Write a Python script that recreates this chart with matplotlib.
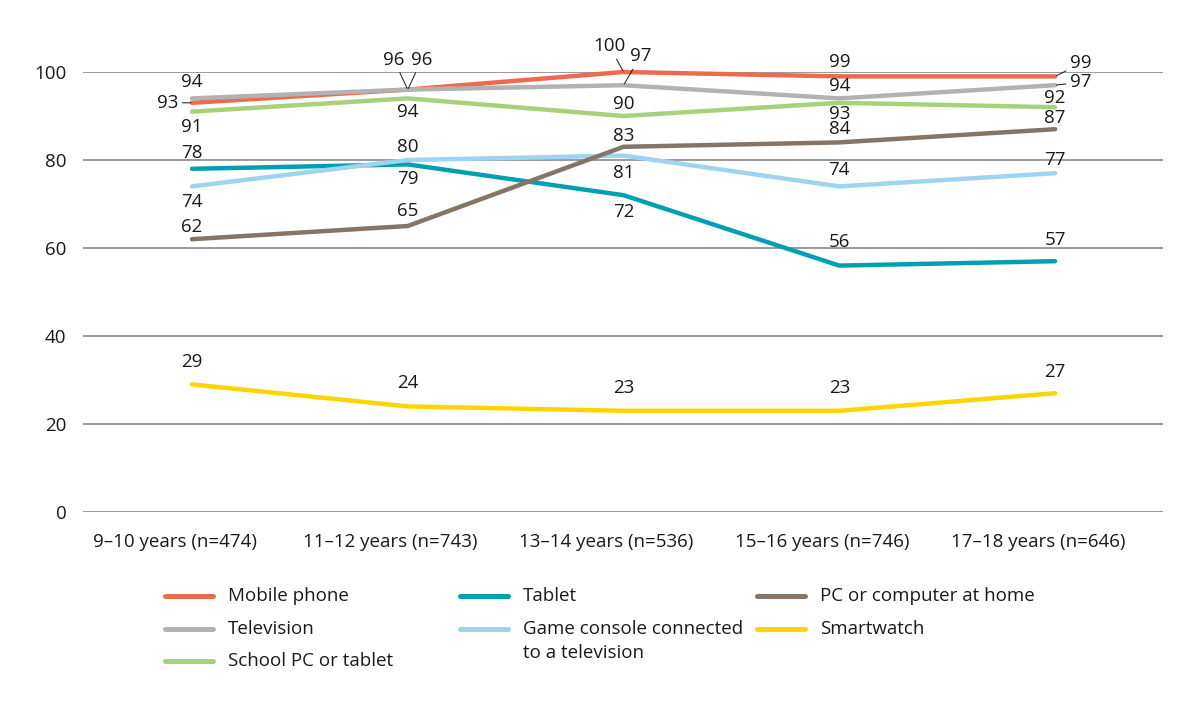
import matplotlib
matplotlib.use("Agg")
import matplotlib.pyplot as plt
from matplotlib.lines import Line2D

plt.rcParams['font.family'] = ['Open Sans', 'DejaVu Sans']

categories = ["9–10 years (n=474)", "11–12 years (n=743)", "13–14 years (n=536)",
              "15–16 years (n=746)", "17–18 years (n=646)"]
series_names = ["Mobile phone", "Television", "School PC or tablet", "Tablet",
                "Game console connected\nto a television", "PC or computer at home", "Smartwatch"]
mobile_phone = [93, 96, 100, 99, 99]
television = [94, 96, 97, 94, 97]
school_pc = [91, 94, 90, 93, 92]
tablet = [78, 79, 72, 56, 57]
game_console = [74, 80, 81, 74, 77]
pc_home = [62, 65, 83, 84, 87]
smartwatch = [29, 24, 23, 23, 27]
yticks = [0, 20, 40, 60, 80, 100]

values = [mobile_phone, television, school_pc, tablet, game_console, pc_home, smartwatch]
colors = ["#EE6A4F", "#B2B2B2", "#A9D17B", "#00A0B2", "#9DD4F2", "#857566", "#FFD400"]

# label offsets in pixels (dx, dy) and whether a leader line is used
offsets = [
    [(-14, 0, True), (-14, 30, True), (-14, 26, True), (0, 14, False), (15, 13, True)],
    [(0, 16, False), (14, 30, True), (17, 29, True), (0, 12, False), (15, 3, True)],
    [(0, -15, False), (0, -14, False), (0, 12, False), (0, -11, False), (0, 9, False)],
    [(0, 16, False), (0, -15, False), (0, -17, False), (0, 24, False), (0, 21, False)],
    [(0, -16, False), (0, 13, False), (0, -17, False), (0, 16, False), (0, 13, False)],
    [(0, 12, False), (0, 15, False), (0, 11, False), (0, 13, False), (0, 11, False)],
    [(0, 22, False), (0, 23, False), (0, 23, False), (0, 23, False), (0, 21, False)],
]

W, H = 1198, 708
fig = plt.figure(figsize=(W / 100, H / 100), dpi=100)
ax = fig.add_axes([83 / W, (H - 512) / H, 1080 / W, 440 / H])

x = list(range(len(categories)))
for name, vals, col in zip(series_names, values, colors):
    ax.plot(x, vals, color=col, lw=3.2, solid_capstyle='round', solid_joinstyle='round',
            clip_on=False, zorder=3)

fs = 13.5
tc = '#1a1a1a'
for vals, offs in zip(values, offsets):
    for xi, v, (dx, dy, lead) in zip(x, vals, offs):
        if lead:
            if dx < -13 and dy == 0:
                ha = 'right'
            elif dx >= 15 and dy < 20:
                ha = 'left'
            else:
                ha = 'center'
            ax.annotate(str(v), xy=(xi, v), xytext=(dx, dy), textcoords='offset pixels',
                        ha=ha, va='center', fontsize=fs, color=tc, zorder=5,
                        annotation_clip=False,
                        arrowprops=dict(arrowstyle='-', color=tc, lw=0.7,
                                        shrinkA=1, shrinkB=1))
        else:
            ax.annotate(str(v), xy=(xi, v), xytext=(dx, dy), textcoords='offset pixels',
                        ha='center', va='center', fontsize=fs, color=tc, zorder=5,
                        annotation_clip=False)

ax.set_xlim(-0.505, 4.5)
ax.set_ylim(0, 100)
ax.set_yticks(yticks)
ax.set_yticklabels([str(t) for t in yticks], fontsize=fs, color=tc)
ax.set_xticks([xi - 0.08 for xi in x])
ax.set_xticklabels(categories, fontsize=fs, color=tc)
ax.tick_params(axis='both', length=0)
ax.tick_params(axis='y', pad=12)
ax.tick_params(axis='x', pad=15)
for s in ax.spines.values():
    s.set_visible(False)
ax.grid(axis='y', color='#8a8a8a', lw=1.2)
ax.set_axisbelow(True)

# legend (manual layout)
col_x = [165, 460, 757]
row_y = [596, 629, 661]
slots = [(0, 0), (0, 1), (0, 2), (1, 0), (1, 1), (2, 0), (2, 1)]
for name, col, (c, r) in zip(series_names, colors, slots):
    hx = col_x[c]
    hy = row_y[r]
    fig.add_artist(Line2D([hx / W, (hx + 48) / W], [1 - hy / H, 1 - hy / H],
                          color=col, lw=3.6, solid_capstyle='round',
                          transform=fig.transFigure))
    lines = name.split("\n")
    for k, ln in enumerate(lines):
        fig.text((hx + 63) / W, 1 - (hy + k * 24) / H, ln, ha='left', va='center',
                 fontsize=fs, color=tc)

fig.savefig("out.png", dpi=100, facecolor='white')
